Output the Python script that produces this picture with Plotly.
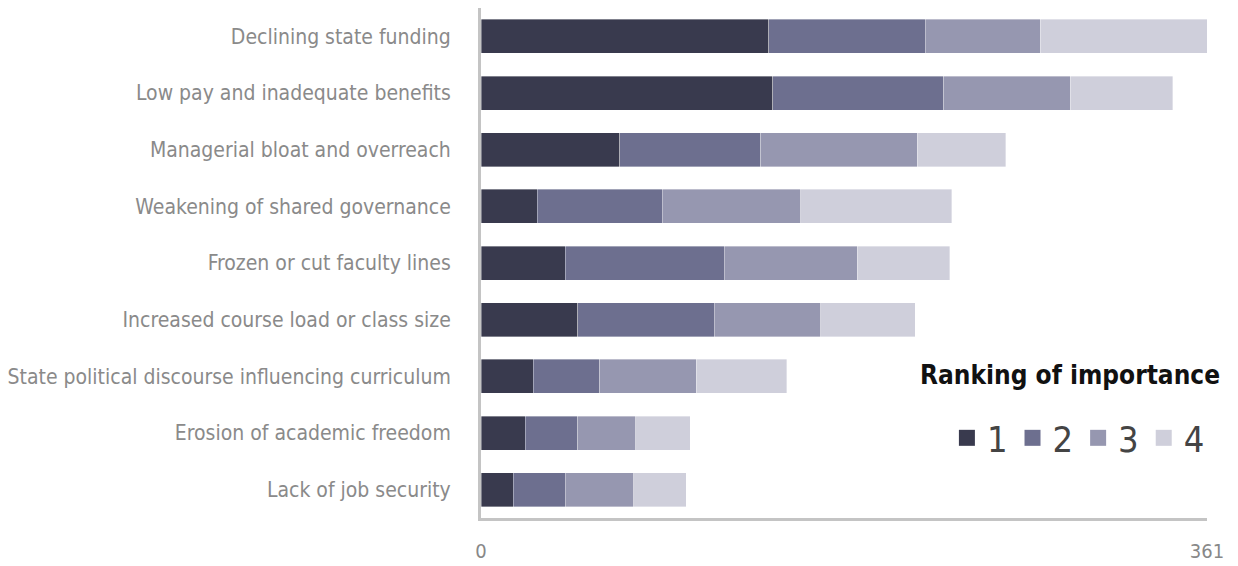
import plotly.graph_objects as go

# categories, top to bottom
issues = [
    "Declining state funding",
    "Low pay and inadequate benefits",
    "Managerial bloat and overreach",
    "Weakening of shared governance",
    "Frozen or cut faculty lines",
    "Increased course load or class size",
    "State political discourse influencing curriculum",
    "Erosion of academic freedom",
    "Lack of job security",
]

# number of respondents giving each rank
rank_1 = [143, 145, 69, 28, 42, 48, 26, 22, 16]
rank_2 = [78, 85, 70, 62, 79, 68, 33, 26, 26]
rank_3 = [57, 63, 78, 69, 66, 53, 48, 29, 34]
rank_4 = [83, 51, 44, 75, 46, 47, 45, 27, 26]

rank_names = ["1", "2", "3", "4"]
rank_colours = ["#393a4e", "#6d6f8f", "#9697b0", "#cfcfdb"]

x_max = 361

label_font = "Liberation Sans Narrow, DejaVu Sans Condensed, Arial Narrow, sans-serif"

fig = go.Figure()

for name, values, colour in zip(rank_names, [rank_1, rank_2, rank_3, rank_4], rank_colours):
    fig.add_trace(
        go.Bar(
            name=name,
            y=issues,
            x=values,
            orientation="h",
            showlegend=False,
            marker=dict(color=colour, line=dict(color="rgba(255,255,255,0.6)", width=0.6)),
        )
    )

# legend entries with bigger square swatches than the bar default
for name, colour in zip(rank_names, rank_colours):
    fig.add_trace(
        go.Scatter(
            name=name,
            x=[None],
            y=[None],
            mode="markers",
            marker=dict(symbol="square", size=20, color=colour),
            showlegend=True,
        )
    )

# the page body adds an 8px margin, so the figure is a bit smaller than the window
fig.update_layout(
    barmode="stack",
    bargap=0.4,
    width=1230,
    height=558,
    plot_bgcolor="white",
    paper_bgcolor="white",
    margin=dict(l=473, r=31, t=0, b=48, autoexpand=False),
    font=dict(family=label_font, color="#888888"),
    legend=dict(
        orientation="h",
        traceorder="normal",
        itemsizing="trace",
        x=1.004,
        xanchor="right",
        y=0.157,
        yanchor="middle",
        font=dict(family=label_font, size=36, color="#444444"),
        itemwidth=30,
        bgcolor="rgba(0,0,0,0)",
    ),
)

# legend title as a separate label so it can sit further above the items
fig.add_annotation(
    text="<b>Ranking of importance</b>",
    xref="paper",
    yref="paper",
    x=1.021,
    y=0.28,
    xanchor="right",
    yanchor="middle",
    showarrow=False,
    font=dict(family=label_font, size=26, color="#111111"),
)

fig.update_xaxes(
    range=[0, x_max],
    tickvals=[0, x_max],
    ticktext=["0", str(x_max)],
    showgrid=False,
    zeroline=False,
    showline=True,
    linecolor="#c4c4c4",
    linewidth=3,
    tickfont=dict(size=20, color="#888888"),
    ticklabelstandoff=13,
    automargin=False,
    fixedrange=True,
)

fig.update_yaxes(
    range=[len(issues) - 0.5, -0.5],
    showgrid=False,
    zeroline=False,
    showline=True,
    linecolor="#c4c4c4",
    linewidth=3,
    tickfont=dict(size=21, color="#8a8a8a"),
    ticklabelstandoff=23,
    automargin=False,
    fixedrange=True,
)

fig.write_html("out.html")
